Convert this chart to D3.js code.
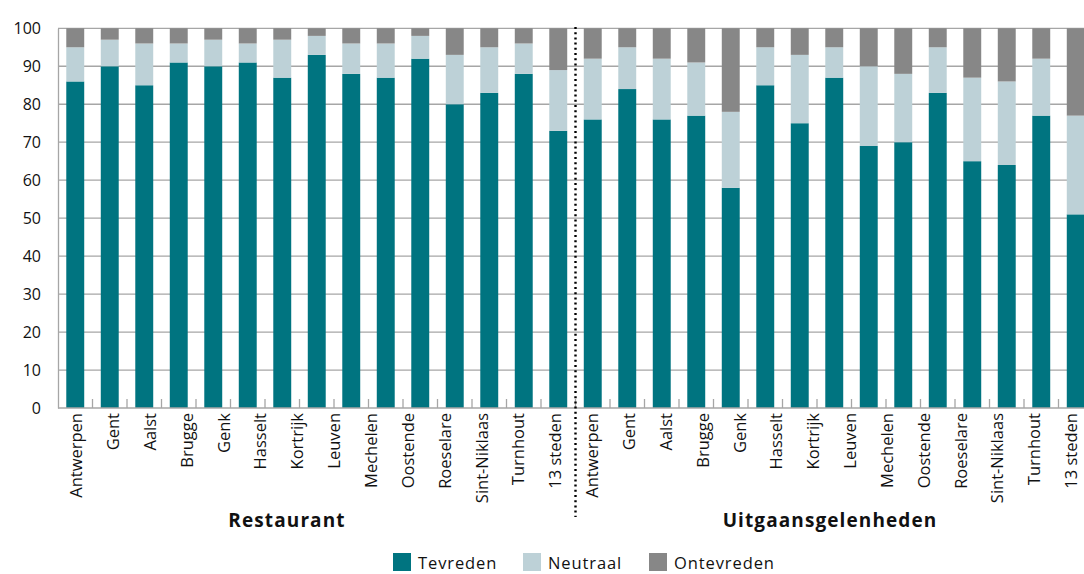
<!DOCTYPE html>
<html>
<head>
<meta charset="utf-8">
<script src="https://cdn.jsdelivr.net/npm/d3@7"></script>
<style>
  body { margin: 0; background: #fff; }
  text { font-family: "Open Sans", "Noto Sans", sans-serif; fill: #111; }
</style>
</head>
<body>
<div id="chart"></div>
<script>
// Category labels (14 per group)
const cities = ["Antwerpen", "Gent", "Aalst", "Brugge", "Genk", "Hasselt", "Kortrijk",
  "Leuven", "Mechelen", "Oostende", "Roeselare", "Sint-Niklaas", "Turnhout", "13 steden"];
const groups = ["Restaurant", "Uitgaansgelenheden"];

// Bar values (15 bars per group, as drawn in the picture)
const tevreden = [86, 90, 85, 91, 90, 91, 87, 93, 88, 87, 92, 80, 83, 88, 73,
                  76, 84, 76, 77, 58, 85, 75, 87, 69, 70, 83, 65, 64, 77, 51];
const neutraal = [9, 7, 11, 5, 7, 5, 10, 5, 8, 9, 6, 13, 12, 8, 16,
                  16, 11, 16, 14, 20, 10, 18, 8, 21, 18, 12, 22, 22, 15, 26];
const ontevreden = [5, 3, 4, 4, 3, 4, 3, 2, 4, 4, 2, 7, 5, 4, 11,
                    8, 5, 8, 9, 22, 5, 7, 5, 10, 12, 5, 13, 14, 8, 23];

const seriesNames = ["Tevreden", "Neutraal", "Ontevreden"];
const colors = ["#007480", "#bdd1d7", "#878787"];
const yTicks = [0, 10, 20, 30, 40, 50, 60, 70, 80, 90, 100];

const width = 1084;
const height = 574;
const plotLeft = 58;
const plotTop = 28.3;
const plotBottom = 408;

const svg = d3.select("#chart")
  .append("svg")
  .attr("width", width)
  .attr("height", height);

const barIds = d3.range(tevreden.length);
const rows = barIds.map(i => ({ i, Tevreden: tevreden[i], Neutraal: neutraal[i], Ontevreden: ontevreden[i] }));
const stacked = d3.stack().keys(seriesNames)(rows);

// Scales
const x = d3.scaleBand()
  .domain(barIds)
  .range([plotLeft, plotLeft + barIds.length * 34.5])
  .paddingInner(0.48)
  .paddingOuter(0.24);

const labelKeys = [];
groups.forEach(g => cities.forEach(c => labelKeys.push(g + "|" + c)));
const xLabel = d3.scaleBand()
  .domain(labelKeys)
  .range([plotLeft, plotLeft + labelKeys.length * 36.85]);

const y = d3.scaleLinear().domain([0, 100]).range([plotBottom, plotTop]);

// Gridlines
svg.append("g")
  .selectAll("line")
  .data(yTicks.filter(d => d > 0))
  .enter()
  .append("line")
  .attr("x1", plotLeft)
  .attr("x2", width)
  .attr("y1", d => y(d))
  .attr("y2", d => y(d))
  .attr("stroke", "#a6a6a6")
  .attr("stroke-width", 1.3);

// Bars
svg.append("g")
  .selectAll("g")
  .data(stacked)
  .enter()
  .append("g")
  .attr("fill", (d, i) => colors[i])
  .selectAll("rect")
  .data(d => d)
  .enter()
  .append("rect")
  .attr("x", d => x(d.data.i))
  .attr("y", d => y(d[1]))
  .attr("width", x.bandwidth())
  .attr("height", d => y(d[0]) - y(d[1]));

// Y axis
const yAxis = d3.axisLeft(y).tickValues(yTicks).tickSize(0).tickPadding(17);
const yG = svg.append("g")
  .attr("transform", `translate(${plotLeft},0)`)
  .call(yAxis);
yG.select(".domain").attr("stroke", "#a6a6a6").attr("stroke-width", 1.3);
yG.selectAll("text").style("font-size", "16px").attr("fill", "#111");

// X axis line and tick marks between categories
svg.append("line")
  .attr("x1", plotLeft).attr("x2", width)
  .attr("y1", plotBottom).attr("y2", plotBottom)
  .attr("stroke", "#a6a6a6").attr("stroke-width", 1.3);

svg.append("g")
  .selectAll("line")
  .data(d3.range(1, barIds.length + 1))
  .enter()
  .append("line")
  .attr("x1", k => x.range()[0] + k * x.step())
  .attr("x2", k => x.range()[0] + k * x.step())
  .attr("y1", plotBottom)
  .attr("y2", plotBottom - 9)
  .attr("stroke", "#a6a6a6")
  .attr("stroke-width", 1.3);

// Category labels
svg.append("g")
  .selectAll("text")
  .data(labelKeys)
  .enter()
  .append("text")
  .attr("transform", d => `translate(${xLabel(d) + xLabel.bandwidth() / 2},413) rotate(-90)`)
  .attr("text-anchor", "end")
  .attr("dy", "0.35em")
  .style("font-size", "16.5px")
  .text(d => d.split("|")[1]);

// Group labels
const groupX = [287, 830];
svg.append("g")
  .selectAll("text")
  .data(groups)
  .enter()
  .append("text")
  .attr("x", (d, i) => groupX[i])
  .attr("y", 527)
  .attr("text-anchor", "middle")
  .style("font-size", "19px")
  .style("font-weight", "bold")
  .style("letter-spacing", "1.1px")
  .text(d => d);

// Dotted separator between the groups
const sepX = x.range()[0] + 15 * x.step();
svg.append("line")
  .attr("x1", sepX).attr("x2", sepX)
  .attr("y1", 27).attr("y2", 517)
  .attr("stroke", "#000")
  .attr("stroke-width", 2.4)
  .attr("stroke-dasharray", "2,3.2");

// Legend
const legendX = [393, 523, 649];
const legend = svg.append("g")
  .selectAll("g")
  .data(seriesNames)
  .enter()
  .append("g")
  .attr("transform", (d, i) => `translate(${legendX[i]},553)`);

legend.append("rect")
  .attr("width", 18)
  .attr("height", 18)
  .attr("fill", (d, i) => colors[i]);

legend.append("text")
  .attr("x", 25)
  .attr("y", 15.5)
  .style("font-size", "16.5px")
  .style("letter-spacing", "0.9px")
  .text(d => d);
</script>
</body>
</html>
